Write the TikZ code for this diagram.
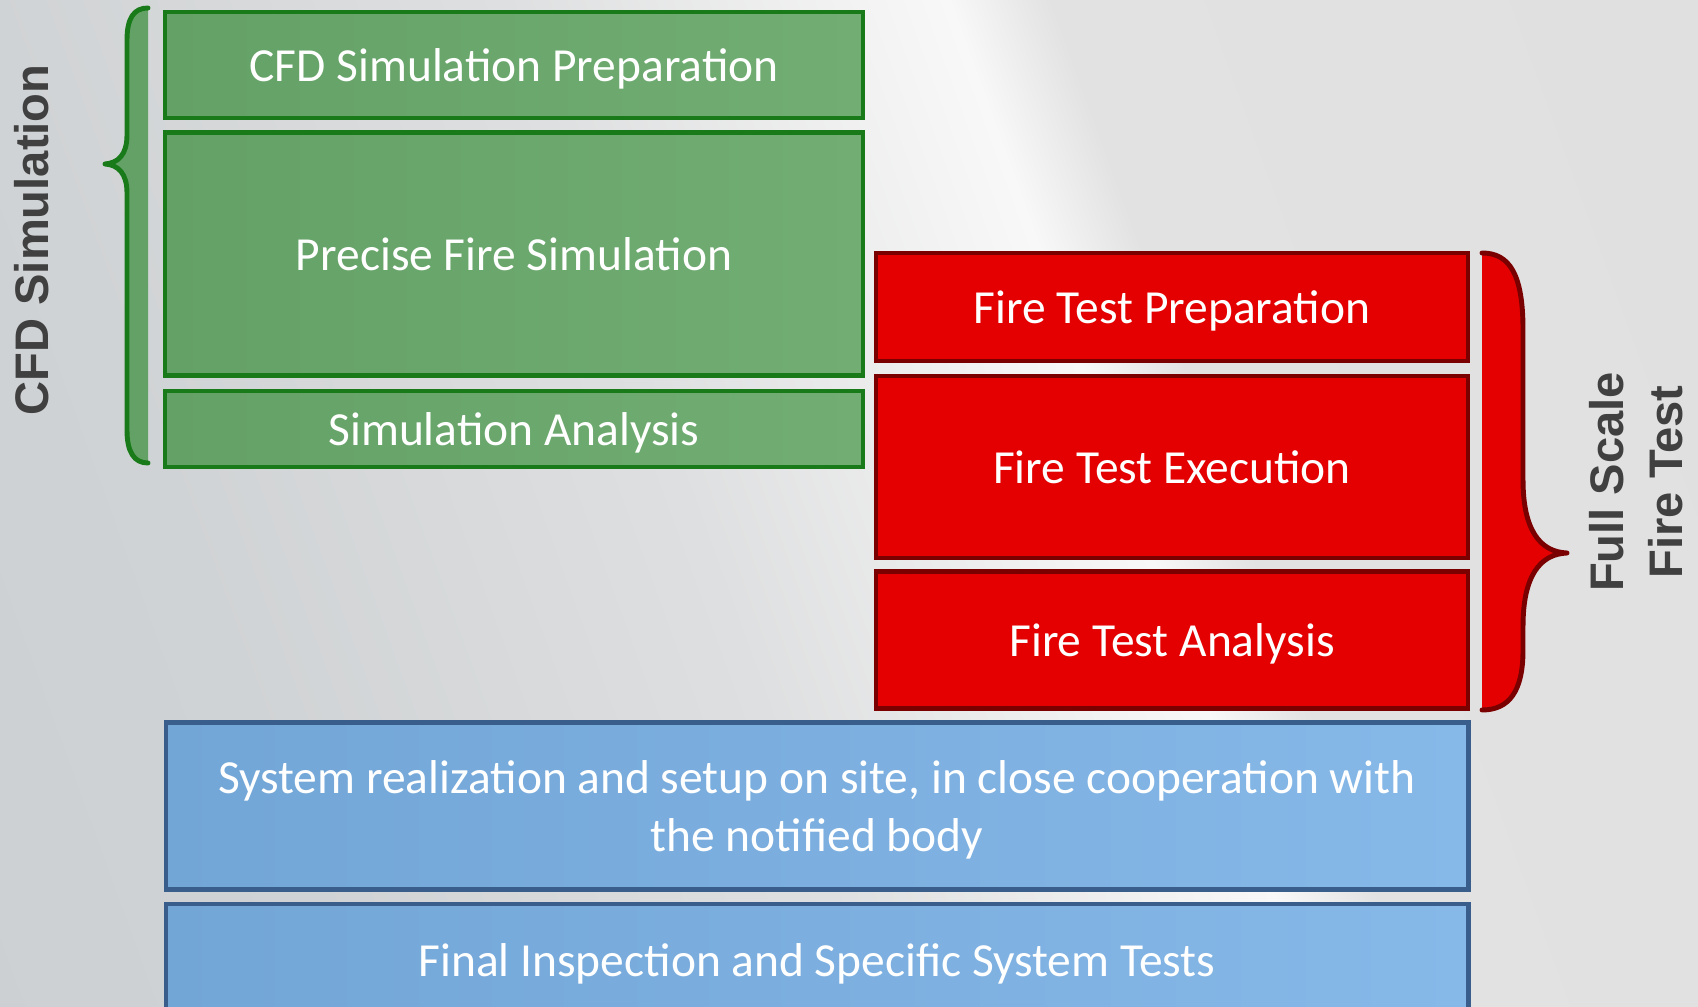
\documentclass[tikz,border=0pt]{standalone}
\usepackage{fontspec}
\setmainfont{Carlito}
\newfontfamily\labelfont{Liberation Sans}
\usepackage{xcolor}
\usepackage{tikz}
\usetikzlibrary{positioning}

\definecolor{bgdark}{RGB}{200,204,207}
\definecolor{bgleft}{RGB}{208,211,213}
\definecolor{bggray}{RGB}{222,223,224}
\definecolor{bglight}{RGB}{243,243,243}
\definecolor{bgmid}{RGB}{248,248,248}
\definecolor{bgfall}{RGB}{226,226,226}
\definecolor{bgright}{RGB}{222,222,222}
\definecolor{simleft}{RGB}{100,161,102}
\definecolor{simright}{RGB}{114,174,116}
\definecolor{simedge}{RGB}{24,122,24}
\definecolor{testfill}{RGB}{228,0,0}
\definecolor{testedge}{RGB}{122,0,0}
\definecolor{siteleft}{RGB}{114,166,214}
\definecolor{siteright}{RGB}{134,184,232}
\definecolor{siteedge}{RGB}{58,94,140}
\definecolor{labelgray}{RGB}{64,64,64}

\pgfdeclarehorizontalshading{slideshade}{100bp}{color(0bp)=(bgdark); color(29bp)=(bgleft);
    color(45bp)=(bggray); color(56bp)=(bglight); color(58.8bp)=(bgmid); color(62bp)=(bgfall);
    color(100bp)=(bgright)}

\begin{document}
\begin{tikzpicture}[x=0.01cm, y=-0.01cm,
    box/.style={rectangle, draw, line width=1.2pt, text=white, align=center, inner sep=0pt,
        text height=12.8pt, text depth=3.4pt, font=\fontsize{13.5}{16.5}\selectfont},
    simbox/.style={box, draw=simedge, left color=simleft, right color=simright},
    testbox/.style={box, draw=testedge, fill=testfill},
    sitebox/.style={box, draw=siteedge, left color=siteleft, right color=siteright},
    brace/.style={line width=1.4pt, line join=round, line cap=round},
    sidelabel/.style={text=labelgray, align=center, font=\labelfont\bfseries\fontsize{13.4}{16.8}\selectfont}]

    % background
    \useasboundingbox (0,0) rectangle (1698,1007);
    \shade[shading=slideshade, shading angle=20] (0,0) rectangle (1698,1007);

    % CFD simulation
    \node [simbox, minimum width=6.97cm, minimum height=1.06cm] (cfdprep) at (514,65) {CFD Simulation Preparation};
    \node [simbox, minimum width=6.97cm, minimum height=2.43cm] (firesim) at (514,254) {Precise Fire Simulation};
    \node [simbox, minimum width=6.97cm, minimum height=0.76cm] (simana) at (514,429) {Simulation Analysis};

    % full scale fire test
    \node [testbox, minimum width=5.92cm, minimum height=1.08cm] (testprep) at (1172,307) {Fire Test Preparation};
    \node [testbox, minimum width=5.92cm, minimum height=1.82cm] (testexec) at (1172,467) {Fire Test Execution};
    \node [testbox, minimum width=5.92cm, minimum height=1.37cm] (testana) at (1172,640) {Fire Test Analysis};

    % on site
    \node [sitebox, minimum width=13.02cm, minimum height=1.67cm, text height=29.3pt] (setup) at (817,806)
        {System realization and setup on site, in close cooperation with\\the notified body};
    \node [sitebox, minimum width=13.02cm, minimum height=1.12cm] (inspect) at (817,960)
        {Final Inspection and Specific System Tests};

    % braces
    \fill [simleft] (148,8) .. controls (134,8) and (127,18) .. (127,40) -- (127,135)
        .. controls (127,155) and (118,163) .. (105,164) .. controls (118,165) and (127,173) .. (127,193)
        -- (127,430) .. controls (127,452) and (134,463) .. (148,463) -- cycle;
    \draw [brace, simedge] (148,8) .. controls (134,8) and (127,18) .. (127,40) -- (127,135)
        .. controls (127,155) and (118,163) .. (105,164) .. controls (118,165) and (127,173) .. (127,193)
        -- (127,430) .. controls (127,452) and (134,463) .. (148,463);
    \fill [testfill] (1482,253) .. controls (1510,253) and (1523,275) .. (1523,330) -- (1523,480)
        .. controls (1523,530) and (1540,552) .. (1567,553) .. controls (1540,554) and (1523,576) .. (1523,626)
        -- (1523,650) .. controls (1523,690) and (1510,710) .. (1482,710) -- cycle;
    \draw [brace, testedge] (1482,253) .. controls (1510,253) and (1523,275) .. (1523,330) -- (1523,480)
        .. controls (1523,530) and (1540,552) .. (1567,553) .. controls (1540,554) and (1523,576) .. (1523,626)
        -- (1523,650) .. controls (1523,690) and (1510,710) .. (1482,710);

    % Labels
    \node [sidelabel, rotate=90] (cfdlabel) at (32,240) {CFD Simulation};
    \node [sidelabel, rotate=90] (testlabel) at (1636,482) {Full Scale\\Fire Test};
\end{tikzpicture}
\end{document}
